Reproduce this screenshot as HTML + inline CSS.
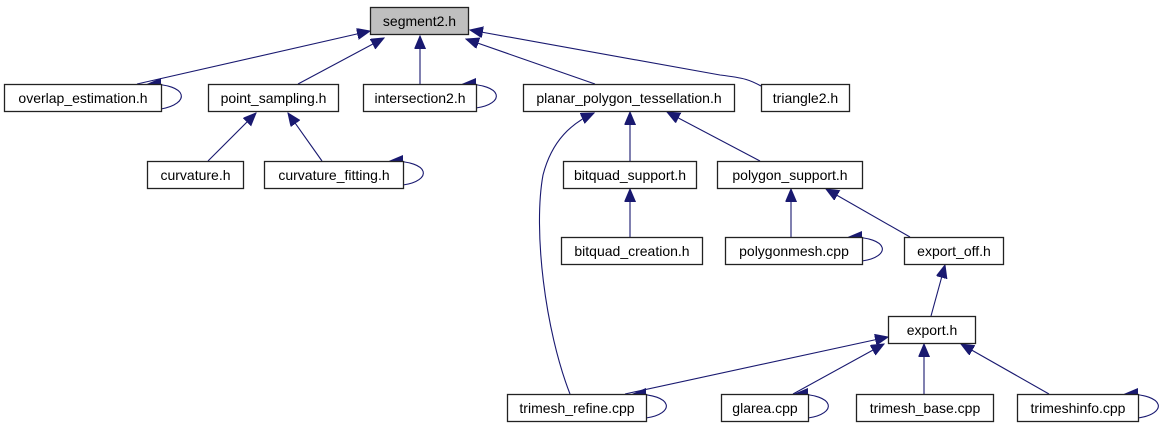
<!DOCTYPE html>
<html><head><meta charset="utf-8"><style>
html,body{margin:0;padding:0;background:#fff;}
svg{display:block;}
text{font-family:"Liberation Sans",sans-serif;font-size:14px;fill:#000;text-anchor:middle;}
.b{fill:#fff;stroke:#222;stroke-width:1.3;}
.e{fill:none;stroke:#191970;stroke-width:1.1;}
</style></head><body>
<svg width="1167" height="427" viewBox="0 0 1167 427" xmlns="http://www.w3.org/2000/svg">
<defs>
<marker id="a" markerUnits="userSpaceOnUse" markerWidth="14" markerHeight="12" refX="13" refY="5.5" orient="auto">
<path d="M0,0 L13,5.5 L0,11 Z" fill="#191970" stroke="#191970"/>
</marker>
</defs>
<g class="e" marker-end="url(#a)">
<path d="M137,84 L370,31"/>
<path d="M298,84 L384,38"/>
<path d="M420,84 L420,36"/>
<path d="M595,84 L466,39"/>
<path d="M761,86 C750,80 745,78 720,75 L470,30"/>
<path d="M208,161 L256,113"/>
<path d="M322,161 L288,113"/>
<path d="M570,394 C545,330 533,230 543,175 C552,140 572,123 594,113"/>
<path d="M630,161 L630,112"/>
<path d="M760,161 L667,112"/>
<path d="M630,237 L630,189"/>
<path d="M791,237 L791,189"/>
<path d="M910,237 L826,189"/>
<path d="M931,316 L945,265"/>
<path d="M625,394 L888,337"/>
<path d="M793,394 L884,344"/>
<path d="M924,394 L924,344"/>
<path d="M1049,394 L961,344"/>
<path d="M161,109 C190,104 190,84 148,84"/>
<path d="M476,108 C505,104 505,84 463,84"/>
<path d="M403,185 C432,181 432,161 390,161"/>
<path d="M862,261 C891,257 891,237 849,237"/>
<path d="M646,418 C675,414 675,394 633,394"/>
<path d="M808,418 C837,414 837,394 795,394"/>
<path d="M1138,418 C1167,414 1167,394 1125,394"/>
</g>
<rect x="370.5" y="7.5" width="98" height="27" fill="#bfbfbf" stroke="#222" stroke-width="1.3"/>
<text x="419.5" y="26">segment2.h</text>
<rect class="b" x="4.5" y="84.5" width="157" height="27"/><text x="83" y="103">overlap_estimation.h</text>
<rect class="b" x="208.5" y="84.5" width="130" height="27"/><text x="273.5" y="103">point_sampling.h</text>
<rect class="b" x="363.5" y="84.5" width="113" height="27"/><text x="420" y="103">intersection2.h</text>
<rect class="b" x="523.5" y="84.5" width="211" height="27"/><text x="629" y="103">planar_polygon_tessellation.h</text>
<rect class="b" x="761.5" y="84.5" width="88" height="27"/><text x="805.5" y="103">triangle2.h</text>
<rect class="b" x="147.5" y="161.5" width="96" height="27"/><text x="195.5" y="180">curvature.h</text>
<rect class="b" x="264.5" y="161.5" width="139" height="27"/><text x="334" y="180">curvature_fitting.h</text>
<rect class="b" x="563.5" y="161.5" width="133" height="27"/><text x="630" y="180">bitquad_support.h</text>
<rect class="b" x="717.5" y="161.5" width="145" height="27"/><text x="790" y="180">polygon_support.h</text>
<rect class="b" x="561.5" y="237.5" width="141" height="27"/><text x="632" y="256">bitquad_creation.h</text>
<rect class="b" x="725.5" y="237.5" width="137" height="27"/><text x="794" y="256">polygonmesh.cpp</text>
<rect class="b" x="904.5" y="237.5" width="99" height="27"/><text x="954" y="256">export_off.h</text>
<rect class="b" x="888.5" y="316.5" width="87" height="27"/><text x="932" y="335">export.h</text>
<rect class="b" x="507.5" y="394.5" width="139" height="27"/><text x="577" y="413">trimesh_refine.cpp</text>
<rect class="b" x="721.5" y="394.5" width="87" height="27"/><text x="765" y="413">glarea.cpp</text>
<rect class="b" x="856.5" y="394.5" width="137" height="27"/><text x="925" y="413">trimesh_base.cpp</text>
<rect class="b" x="1017.5" y="394.5" width="121" height="27"/><text x="1078" y="413">trimeshinfo.cpp</text>
</svg>
</body></html>
